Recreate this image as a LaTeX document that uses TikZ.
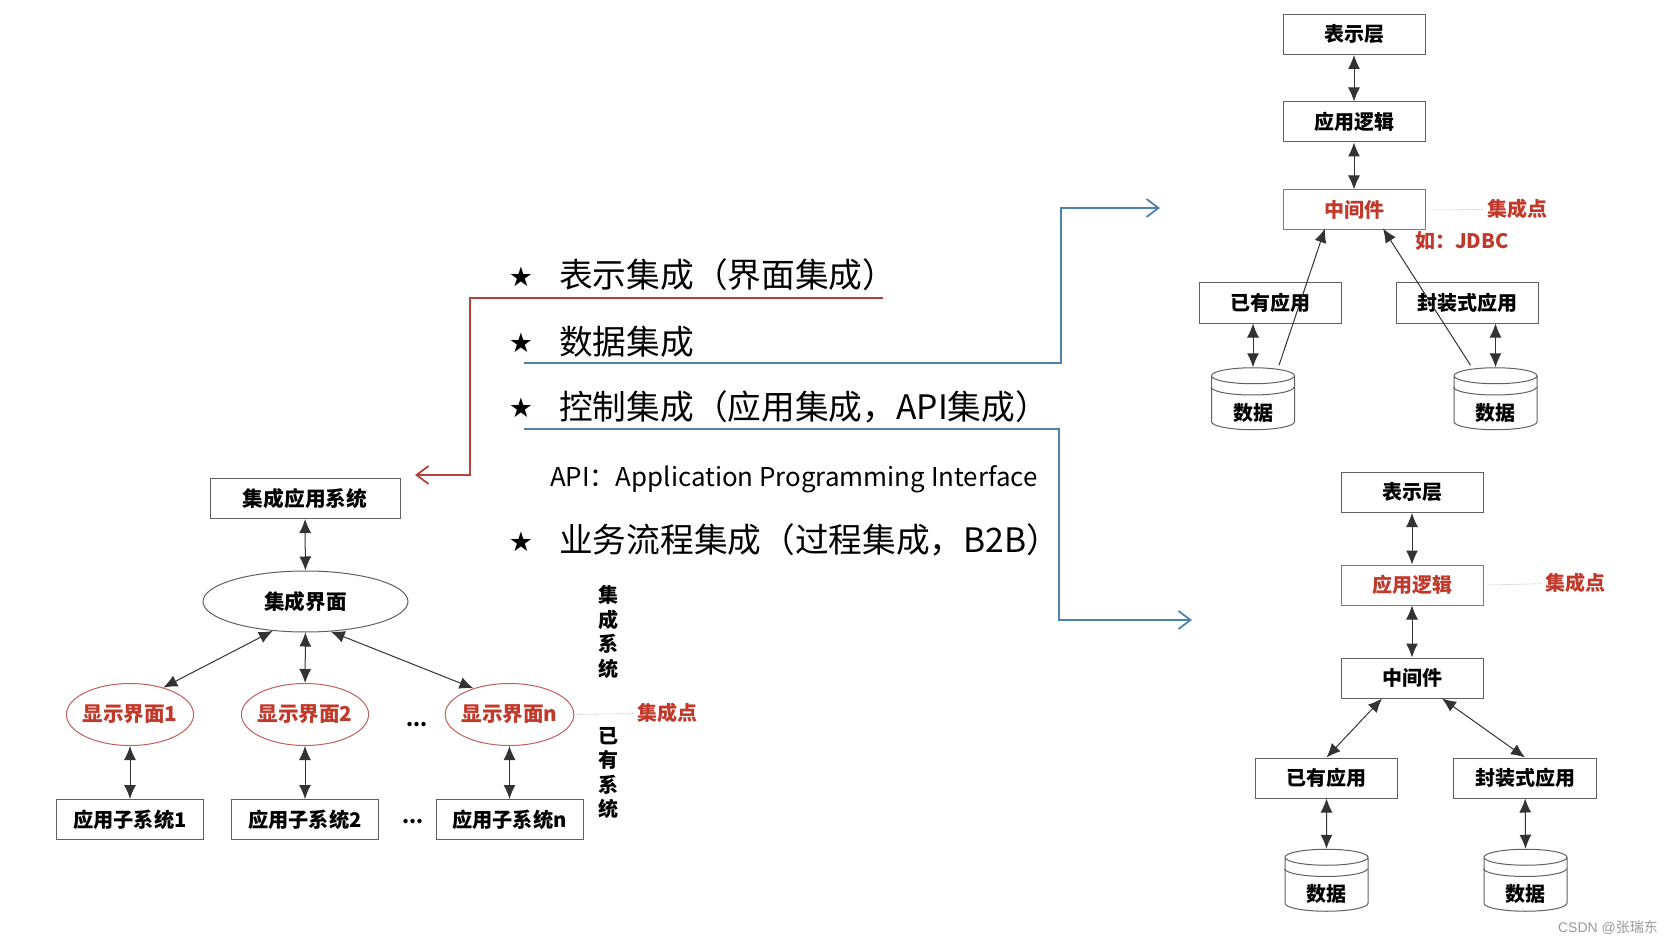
\documentclass[tikz,border=0pt]{standalone}
\usepackage{fontspec}
\setmainfont{Noto Sans CJK SC}
\newfontfamily\starfont{DejaVu Sans}
\newfontfamily\markfont{Liberation Sans}
\usetikzlibrary{arrows.meta,calc,shapes.geometric}

\begin{document}
\begin{tikzpicture}[x=1pt,y=-1pt,
    sysbox/.style={draw=boxColour,line width=1pt,inner sep=0pt,minimum height=40pt,font=\fontsize{20}{24}\selectfont\bfseries},
    redbox/.style={sysbox,draw=redLine,text=redText},
    sysoval/.style={draw=boxColour,line width=1pt,ellipse,inner sep=0pt,font=\fontsize{20.6}{24}\selectfont\bfseries},
    redoval/.style={sysoval,draw=redLine,text=redText,inner xsep=-2.5pt,minimum height=62pt},
    datacyl/.style={draw=boxColour,line width=1pt,cylinder,shape border rotate=90,aspect=0.4,inner sep=0pt,minimum width=83pt,minimum height=62pt,font=\fontsize{20}{24}\selectfont\bfseries},
    biarrow/.style={{Latex[length=14pt,width=12pt]}-{Latex[length=14pt,width=12pt]},draw=arrowColour,line width=1pt},
    uparrow/.style={-{Latex[length=14pt,width=12pt]},draw=arrowColour,line width=1pt},
    hintline/.style={draw=gray!50,line width=0.8pt,densely dotted},
    hint/.style={text=redText,font=\fontsize{20}{24}\selectfont\bfseries},
    sidetext/.style={align=center,font=\fontsize{20}{24.5}\selectfont\bfseries},
    bigtext/.style={anchor=west,inner sep=0pt,font=\fontsize{33.7}{38}\selectfont},
    starmark/.style={inner sep=0pt,font=\starfont\fontsize{27}{30}\selectfont}]
    % Define colours
    \definecolor{boxColour}{HTML}{606060}
    \definecolor{arrowColour}{HTML}{333333}
    \definecolor{redLine}{HTML}{C0605C}
    \definecolor{redText}{HTML}{C0392B}
    \definecolor{redWire}{HTML}{B5403C}
    \definecolor{blueWire}{HTML}{4F81AD}

    % Fix the page
    \useasboundingbox (0,0) rectangle (1674,944);

    % Draw the integrated system on the left
    \node[sysbox,minimum width=190pt,font=\fontsize{20.7}{24}\selectfont\bfseries] (appTop) at (305,498.5) {集成应用系统};
    \node[sysoval,minimum width=205pt,minimum height=61pt] (uiMain) at (305.5,601.5) {集成界面};
    \draw[biarrow] (appTop) -- (uiMain);

    % Draw the existing systems under it
    \foreach \i/\x in {1/130,2/305,n/509.5} {
        \node[redoval] (show\i) at (\x,714.5) {显示界面\i};
        \node[sysbox,minimum width=147pt,font=\fontsize{20.2}{24}\selectfont\bfseries] (sub\i) at (\x,819.5) {应用子系统\i};
        \draw[biarrow] (show\i) -- (sub\i);
    }
    \draw[biarrow] (uiMain.222) -- (show1.39);
    \draw[biarrow] (uiMain) -- (show2);
    \draw[biarrow] (uiMain.310) -- (shown.144);

    \node[font=\bfseries\fontsize{20}{24}\selectfont] (dotsShow) at (417,724.5) {...};
    \node[font=\bfseries\fontsize{20}{24}\selectfont] (dotsSub) at (413,821.5) {...};

    % Label the two levels
    \node[sidetext] (sideTop) at (608,632) {集\\成\\系\\统};
    \node[sidetext] (sideLow) at (608,773) {已\\有\\系\\统};
    \node[hint] (hintLeft) at (667.5,713) {集成点};
    \draw[hintline] (shown) ++(65,0) coordinate (hintStart) -- (hintLeft);

    % Write the four kinds of integration
    \foreach \n/\y/\t in {a/275/表示集成（界面集成）,b/342/数据集成,c/407/控制集成（应用集成，API集成）,d/540/业务流程集成（过程集成，B2B）} {
        \node[bigtext] (kind\n) at (559,\y) {\t};
    }
    \foreach \n/\y in {a/277,b/343,c/408,d/542}
        \node[starmark] (star\n) at (521,\y) {★};
    \node[anchor=west,inner sep=0pt,font=\fontsize{25.9}{30}\selectfont] (apiNote) at (550,479) {API：Application Programming Interface};

    % Draw the leader lines
    \coordinate (redStart) at (883,298);
    \coordinate (redEnd) at (415,475);
    \coordinate (blueOneStart) at (524,363);
    \coordinate (blueOneEnd) at (1160,208);
    \coordinate (blueTwoStart) at (524,429);
    \coordinate (blueTwoEnd) at (1192,620);
    \draw[redWire,line width=1.8pt,-{Straight Barb[length=12pt,width=18pt]}] (redStart) -- (470,298) -- (470,475) -- (redEnd);
    \draw[blueWire,line width=1.8pt,-{Straight Barb[length=12pt,width=18pt]}] (blueOneStart) -- (1061,363) -- (1061,208) -- (blueOneEnd);
    \draw[blueWire,line width=1.8pt,-{Straight Barb[length=12pt,width=18pt]}] (blueTwoStart) -- (1059,429) -- (1059,620) -- (blueTwoEnd);

    % Draw the upper stack
    \node[sysbox,minimum width=142pt] (showUp) at (1354,34.5) {表示层};
    \node[sysbox,minimum width=142pt] (logicUp) at (1354,122) {应用逻辑};
    \node[redbox,minimum width=142pt] (midUp) at (1354,210) {中间件};
    \node[sysbox,minimum width=142pt] (oldUp) at (1270,303) {已有应用};
    \node[sysbox,minimum width=142pt] (wrapUp) at (1467,303) {封装式应用};
    \node[datacyl] (dataUpA) at (1253,403) {\raisebox{-17pt}[0pt][0pt]{数据}};
    \node[datacyl] (dataUpB) at (1495.5,403) {\raisebox{-17pt}[0pt][0pt]{数据}};
    \draw[biarrow] (showUp) -- (logicUp);
    \draw[biarrow] (logicUp) -- (midUp);
    \draw[biarrow] (dataUpA.north |- oldUp.south) -- (dataUpA.north);
    \draw[biarrow] (dataUpB.north |- wrapUp.south) -- (dataUpB.north);
    \draw[uparrow] ([xshift=26pt,yshift=2pt]dataUpA.north) -- ([xshift=-29pt,yshift=2pt]midUp.south);
    \draw[uparrow] ([xshift=-25pt,yshift=2pt]dataUpB.north) -- ([xshift=29pt,yshift=2pt]midUp.south);
    \node[hint] (hintUp) at (1517,209) {集成点};
    \draw[hintline] ([xshift=3pt]midUp.east) -- (hintUp);
    \node[hint] (jdbcNote) at (1462,241) {如：JDBC};

    % Draw the lower stack
    \node[sysbox,minimum width=142pt] (showLow) at (1412,492.5) {表示层};
    \node[redbox,minimum width=142pt] (logicLow) at (1412,585) {应用逻辑};
    \node[sysbox,minimum width=142pt] (midLow) at (1412,678) {中间件};
    \node[sysbox,minimum width=142pt] (oldLow) at (1326.5,778) {已有应用};
    \node[sysbox,minimum width=143pt] (wrapLow) at (1525,778) {封装式应用};
    \node[datacyl] (dataLowA) at (1326.5,884.5) {\raisebox{-17pt}[0pt][0pt]{数据}};
    \node[datacyl] (dataLowB) at (1525.5,884.5) {\raisebox{-17pt}[0pt][0pt]{数据}};
    \draw[biarrow] (showLow) -- (logicLow);
    \draw[biarrow] (logicLow) -- (midLow);
    \draw[biarrow] ([xshift=-30pt]midLow.south) -- (oldLow.north);
    \draw[biarrow] ([xshift=30pt]midLow.south) -- (wrapLow.north);
    \draw[biarrow] (oldLow) -- (dataLowA.north);
    \draw[biarrow] (wrapLow) -- (dataLowB.north);
    \node[hint] (hintLow) at (1575,583) {集成点};
    \draw[hintline] ([xshift=3pt]logicLow.east) -- (hintLow);

    % Add the small second rim on each cylinder
    \foreach \c in {dataUpA,dataUpB,dataLowA,dataLowB}
        \draw[boxColour,line width=1pt] ($(\c.west)+(0,-16)$) arc[start angle=180,end angle=360,x radius=41.5pt,y radius=8pt];

    \node[text=gray!80,font=\markfont\fontsize{14}{18}\selectfont] (siteMark) at (1608,928) {CSDN @{\rmfamily 张瑞东}};
\end{tikzpicture}
\end{document}
